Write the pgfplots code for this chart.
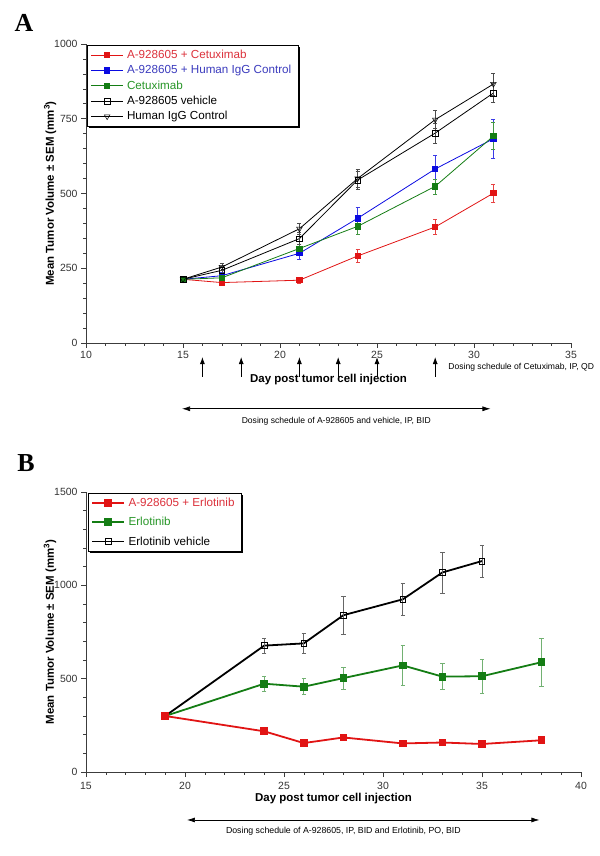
\documentclass[border=0pt]{standalone}
\usepackage{pgfplots}
\pgfplotsset{compat=1.18}
\usepackage{fontspec}
\setmainfont{Liberation Sans}
\newfontfamily\seriffont{Liberation Serif}
\usetikzlibrary{arrows.meta}
\definecolor{cRed}{RGB}{225,20,20}
\definecolor{cBlue}{RGB}{10,10,225}
\definecolor{cGreen}{RGB}{20,125,20}
\definecolor{tRed}{RGB}{220,50,60}
\definecolor{tBlue}{RGB}{60,60,190}
\definecolor{tGreen}{RGB}{40,150,40}
\definecolor{axisgray}{RGB}{60,60,60}

\pgfplotsset{
  mystyle/.style={
    scale only axis,
    axis x line*=bottom, axis y line*=left,
    axis line style={axisgray, line width=0.7bp, -},
    tick style={axisgray, line width=0.6bp},
    tick align=outside,
    major tick length=5bp, minor tick length=3bp,
    minor tick num=4,
    tick label style={font=\fontsize{10.5}{12}\selectfont, text=black!80},
    /pgf/number format/assume math mode=true,
    /pgf/number format/1000 sep={},
    clip=false,
    label style={font=\bfseries\fontsize{11.5}{13}\selectfont},
    legend cell align=left,
    legend style={draw=black, line width=0.6bp, fill=white,
      anchor=north west, inner xsep=3bp, inner ysep=3bp,
      nodes={inner xsep=3.5bp}},
    legend image code/.code={\draw[mark repeat=2,mark phase=2,##1] plot coordinates {(0bp,0bp) (16bp,0bp) (32bp,0bp)};},
    error bars/y dir=both, error bars/y explicit,
  }
}

\begin{document}
\begin{tikzpicture}[x=1bp,y=1bp]
\useasboundingbox (0,0) rectangle (600,856);

\node[font=\seriffont\bfseries\fontsize{26}{28}\selectfont] at (24,833) {A};
\node[font=\seriffont\bfseries\fontsize{26}{28}\selectfont] at (26,393) {B};

% ---------------- Panel A ----------------
\begin{axis}[mystyle,
  at={(86bp,513bp)}, anchor=south west,
  width=485bp, height=299bp,
  xmin=10, xmax=35, ymin=0, ymax=1000,
  xtick={10,15,...,35}, ytick={0,250,500,750,1000},
  xlabel={Day post tumor cell injection},
  xlabel style={at={(axis description cs:0.5,0)}, anchor=center, yshift=-37bp},
  ylabel={Mean Tumor Volume \textpm{} SEM (mm\textsuperscript{3})},
  ylabel style={at={(axis description cs:-0.074,0.5)}, anchor=center},
  legend style={name=legA, at={(axis description cs:0.003,0.997)}, font=\fontsize{11.7}{13}\selectfont, row sep=1.4bp},
  error bars/error mark options={rotate=90, mark size=2bp, line width=0.5bp},
]
\addplot[cRed, line width=0.8bp, mark=square*, mark size=2.6bp, mark options={solid, fill=cRed},
  error bars/error bar style={cRed!80, line width=0.5bp}]
  table[x=x, y=y, y error=e] {
x y e
15 213 0
17 202 6
21 210 10
24 291 22
28 388 25
31 501 29
};
\addlegendentry{\textcolor{tRed}{A-928605 + Cetuximab}}
\addplot[cBlue, line width=0.8bp, mark=square*, mark size=2.6bp, mark options={solid, fill=cBlue},
  error bars/error bar style={cBlue!80, line width=0.5bp}]
  table[x=x, y=y, y error=e] {
x y e
15 213 0
17 225 10
21 300 20
24 417 36
28 582 47
31 683 64
};
\addlegendentry{\textcolor{tBlue}{A-928605 + Human IgG Control}}
\addplot[cGreen, line width=0.8bp, mark=square*, mark size=2.6bp, mark options={solid, fill=cGreen},
  error bars/error bar style={cGreen!80, line width=0.5bp}]
  table[x=x, y=y, y error=e] {
x y e
15 213 0
17 218 8
21 316 15
24 390 25
28 524 25
31 692 45
};
\addlegendentry{\textcolor{tGreen}{Cetuximab}}
\addplot[black, line width=0.8bp, mark=square, mark size=2.8bp, mark options={solid, fill=white, line width=0.6bp},
  error bars/error bar style={black!70, line width=0.5bp}]
  table[x=x, y=y, y error=e] {
x y e
15 213 0
17 243 12
21 349 20
24 545 30
28 702 33
31 836 32
};
\addlegendentry{A-928605 vehicle}
\addplot[black, line width=0.8bp, mark=triangle, mark size=3.2bp, mark options={solid, fill=white, rotate=180, line width=0.5bp},
  error bars/error bar style={black!70, line width=0.5bp}]
  table[x=x, y=y, y error=e] {
x y e
15 213 0
17 254 12
21 382 20
24 550 30
28 747 30
31 866 36
};
\addlegendentry{Human IgG Control}

% dosing annotations
\pgfplotsinvokeforeach{16,18,21,23,25,28}{
  \draw[-{Latex[length=7bp,width=5bp]}, line width=0.8bp] (axis cs:#1,-113) -- (axis cs:#1,-47);
}
\node[anchor=west, font=\fontsize{8.6}{10}\selectfont] at (axis cs:28.5,-80) {Dosing schedule of Cetuximab, IP, QD};
\draw[{Latex[length=8bp,width=5bp]}-{Latex[length=8bp,width=5bp]}, line width=0.7bp] (axis cs:14.95,-220) -- (axis cs:30.85,-220);
\node[font=\fontsize{8.6}{10}\selectfont] at (axis cs:22.9,-262) {Dosing schedule of A-928605 and vehicle, IP, BID};
\end{axis}
\draw[black, line width=1.6bp] ([xshift=2bp,yshift=-0.8bp]legA.south west) -- ([xshift=0.8bp,yshift=-0.8bp]legA.south east) -- ([xshift=0.8bp,yshift=-2bp]legA.north east);

% ---------------- Panel B ----------------
\begin{axis}[mystyle,
  at={(86bp,84bp)}, anchor=south west,
  width=495bp, height=280bp,
  xmin=15, xmax=40, ymin=0, ymax=1500,
  xtick={15,20,...,40}, ytick={0,500,1000,1500},
  xticklabel style={yshift=-2bp},
  xlabel={Day post tumor cell injection},
  xlabel style={at={(axis description cs:0.5,0)}, anchor=center, yshift=-27bp},
  ylabel={Mean Tumor Volume \textpm{} SEM (mm\textsuperscript{3})},
  ylabel style={at={(axis description cs:-0.0727,0.5)}, anchor=center},
  legend style={name=legB, at={(axis description cs:0.004,0.997)}, font=\fontsize{11.7}{13}\selectfont, row sep=5.3bp},
  reverse legend,
  error bars/error mark options={rotate=90, mark size=2.2bp, line width=0.7bp},
]
\addplot[black, line width=1.8bp, mark=square, mark size=2.8bp, mark options={solid, fill=white, line width=0.7bp},
  error bars/error bar style={black!60, line width=0.7bp}]
  table[x=x, y=y, y error=e] {
x y e
19 300 0
24 677 41
26 689 53
28 840 102
31 925 84
33 1069 110
35 1130 86
};
\addlegendentry{Erlotinib vehicle}
\addplot[cGreen, line width=1.8bp, mark=square*, mark size=3bp, mark options={solid, fill=cGreen},
  error bars/error bar style={cGreen!60, line width=0.7bp}]
  table[x=x, y=y, y error=e] {
x y e
19 300 0
24 473 41
26 457 43
28 503 60
31 571 106
33 511 70
35 513 91
38 588 130
};
\addlegendentry{\textcolor{tGreen}{Erlotinib}}
\addplot[cRed, line width=1.8bp, mark=square*, mark size=3bp, mark options={solid, fill=cRed},
  error bars/error bar style={cRed!70, line width=0.7bp}]
  table[x=x, y=y, y error=e] {
x y e
19 300 0
24 218 10
26 155 10
28 185 8
31 153 8
33 158 8
35 150 8
38 170 8
};
\addlegendentry{\textcolor{tRed}{A-928605 + Erlotinib}}

\draw[{Latex[length=8bp,width=5bp]}-{Latex[length=8bp,width=5bp]}, line width=0.7bp] (axis cs:20.1,-257) -- (axis cs:37.9,-257);
\node[font=\fontsize{8.8}{10}\selectfont] at (axis cs:28,-318) {Dosing schedule of A-928605, IP, BID and Erlotinib, PO, BID};
\end{axis}
\draw[black, line width=1.6bp] ([xshift=2bp,yshift=-0.8bp]legB.south west) -- ([xshift=0.8bp,yshift=-0.8bp]legB.south east) -- ([xshift=0.8bp,yshift=-2bp]legB.north east);
\end{tikzpicture}
\end{document}
